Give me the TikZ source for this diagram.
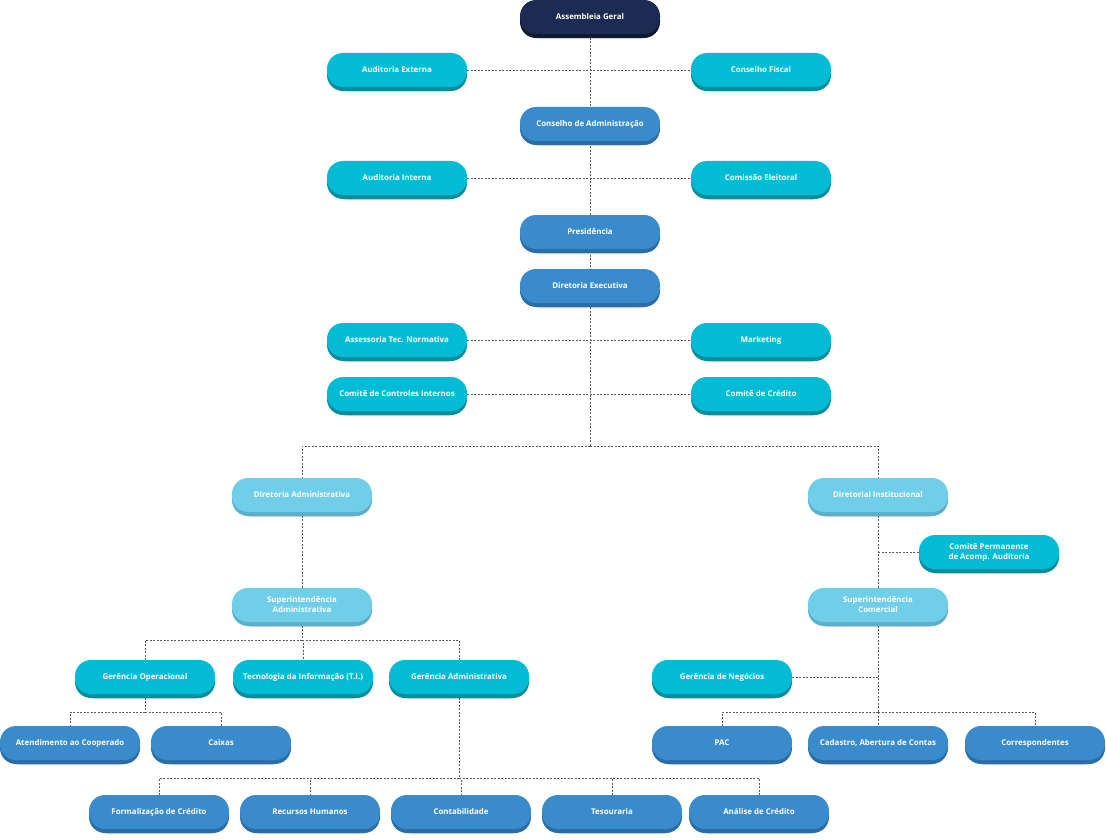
\documentclass[tikz,border=0pt]{standalone}
\usepackage{fontspec}
\setmainfont{Open Sans}
\usetikzlibrary{backgrounds,shadows.blur}
\definecolor{navyF}{HTML}{1B2B51}
\definecolor{navyD}{HTML}{0E1830}
\definecolor{cyanF}{HTML}{02BCD5}
\definecolor{cyanD}{HTML}{0B8D9D}
\definecolor{blueF}{HTML}{3A8BCB}
\definecolor{blueD}{HTML}{2B6DA6}
\definecolor{lightF}{HTML}{70CEE9}
\definecolor{lightD}{HTML}{5BB0C9}
\definecolor{lineC}{HTML}{5A5A5A}
\tikzset{
  box/.style={rounded corners=16pt, minimum width=140pt, minimum height=34pt, inner sep=0pt,
    align=center, text=white, font=\fontsize{7.9}{10}\selectfont\bfseries,
    blur shadow={shadow xshift=0pt, shadow yshift=-6pt, shadow scale=0.9, shadow opacity=60, shadow blur steps=6},
    preaction={fill=#1D, transform canvas={yshift=-4pt}}, fill=#1F},
  navybox/.style={box=navy},
  cbox/.style={box=cyan},
  bbox/.style={box=blue},
  lbox/.style={box=light},
  conn/.style={draw=lineC, line width=0.6pt, dash pattern=on 2pt off 1.5pt}
}
\begin{document}
\begin{tikzpicture}[x=1pt,y=-1pt]
\useasboundingbox (0,0) rectangle (1106,840);
% top trunk
\node[navybox] (ag) at (590,17) {Assembleia Geral};
\node[cbox] (ae) at (397,70) {Auditoria Externa};
\node[cbox] (cf) at (761,70) {Conselho Fiscal};
\node[bbox] (ca) at (590,124) {Conselho de Administração};
\node[cbox] (ai) at (397,178) {Auditoria Interna};
\node[cbox] (ce) at (761,178) {Comissão Eleitoral};
\node[bbox] (pr) at (590,232) {Presidência};
\node[bbox] (de) at (590,286) {Diretoria Executiva};
\node[cbox] (at) at (397,340) {Assessoria Tec. Normativa};
\node[cbox] (mk) at (761,340) {Marketing};
\node[cbox] (ci) at (397,394) {Comitê de Controles Internos};
\node[cbox] (cc) at (761,394) {Comitê de Crédito};
\coordinate (j1) at (590,446);
% left branch
\node[lbox] (da) at (302,495) {Diretoria Administrativa};
\node[lbox] (sa) at (302,605) {Superintendência\\Administrativa};
\coordinate (j2) at (302,640);
\node[cbox] (go) at (145,677) {Gerência Operacional};
\node[cbox] (ti) at (303,677) {Tecnologia da Informação (T.I.)};
\node[cbox] (ga) at (459,677) {Gerência Administrativa};
\coordinate (j3) at (145,712);
\node[bbox] (ac) at (70,743) {Atendimento ao Cooperado};
\node[bbox] (cx) at (221,743) {Caixas};
\coordinate (j4) at (459,778);
\node[bbox] (fc) at (159,812) {Formalização de Crédito};
\node[bbox] (rh) at (310,812) {Recursos Humanos};
\node[bbox] (co) at (461,812) {Contabilidade};
\node[bbox] (te) at (612,812) {Tesouraria};
\node[bbox] (an) at (759,812) {Análise de Crédito};
% right branch
\node[lbox] (di) at (878,495) {Diretorial Institucional};
\node[cbox] (cp) at (989,552) {Comitê Permanente\\de Acomp. Auditoria};
\node[lbox] (sc) at (878,605) {Superintendência\\Comercial};
\node[cbox] (gn) at (722,677) {Gerência de Negócios};
\coordinate (j5) at (878,712);
\node[bbox] (pac) at (722,743) {PAC};
\node[bbox] (cad) at (878,743) {Cadastro, Abertura de Contas};
\node[bbox] (cor) at (1035,743) {Correspondentes};
\begin{pgfonlayer}{background}
\draw[conn] (ag.south) -- (j1);
\draw[conn] (ae.east) -- (cf.west);
\draw[conn] (ai.east) -- (ce.west);
\draw[conn] (at.east) -- (mk.west);
\draw[conn] (ci.east) -- (cc.west);
\draw[conn] (j1) -| (da.north);
\draw[conn] (j1) -| (di.north);
\draw[conn] (da.south) -- (sa.north);
\draw[conn] (sa.south) -- (j2);
\draw[conn] (j2) -| (go.north);
\draw[conn] (j2) -| (ga.north);
\draw[conn] (j2) -| (ti.north);
\draw[conn] (go.south) -- (j3);
\draw[conn] (j3) -| (ac.north);
\draw[conn] (j3) -| (cx.north);
\draw[conn] (ga.south) -- (j4);
\draw[conn] (j4) -| (fc.north);
\draw[conn] (j4) -| (rh.north);
\draw[conn] (j4) -| (co.north);
\draw[conn] (j4) -| (te.north);
\draw[conn] (j4) -| (an.north);
\draw[conn] (di.south) -- (sc.north);
\draw[conn] (cp.west) -- (cp.west -| di.south);
\draw[conn] (sc.south) -- (j5);
\draw[conn] (gn.east) -- (gn.east -| sc.south);
\draw[conn] (j5) -| (pac.north);
\draw[conn] (j5) -- (cad.north);
\draw[conn] (j5) -| (cor.north);
\end{pgfonlayer}
\end{tikzpicture}
\end{document}
